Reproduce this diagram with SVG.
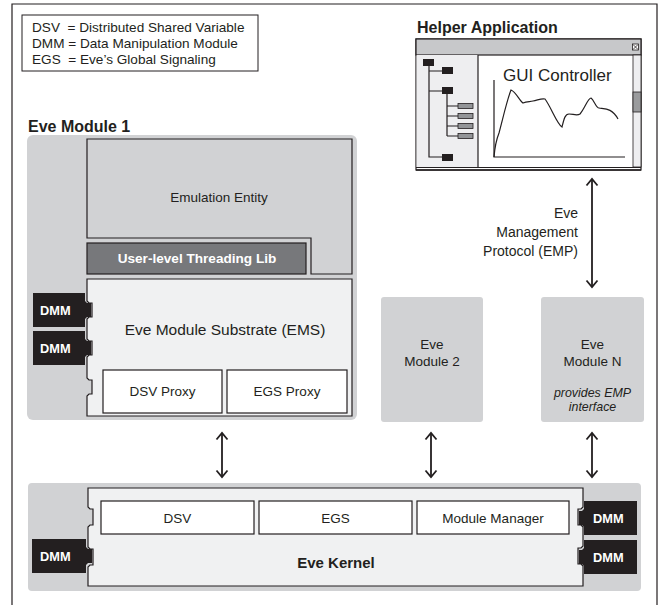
<svg xmlns="http://www.w3.org/2000/svg" width="661" height="605" viewBox="0 0 661 605">
<style>
text{font-family:"Liberation Sans",Arial,sans-serif;fill:#231f20}
.lg{font-size:13.6px;white-space:pre}
.b{font-weight:bold}
.ln{stroke:#231f20;stroke-width:1.2;fill:none}
.bg{fill:#d1d2d4}
.lt{fill:#f0f1f2;stroke:#231f20;stroke-width:1.2}
.wb{fill:#ffffff;stroke:#231f20;stroke-width:1.2}
.dmm{fill:#231f20}
.dt{font-size:12.8px;font-weight:bold;fill:#ffffff}
.arrow{stroke:#231f20;stroke-width:1.8;fill:none;marker-start:url(#ah);marker-end:url(#ah)}
.tb{fill:#231f20}
.tg{fill:#939598;stroke:#231f20;stroke-width:0.8}
</style>
<defs>
<marker id="ah" markerUnits="userSpaceOnUse" markerWidth="16" markerHeight="16" viewBox="-8 -8 16 16" refX="0" refY="0" orient="auto-start-reverse">
<path d="M-6.5,-5.5 L0,0 L-6.5,5.5" fill="none" stroke="#231f20" stroke-width="1.8"/>
</marker>
</defs>

<g id="frame">
<path class="ln" d="M12,605 V4 H657 V605" stroke-width="1.5"/>
</g>

<g id="legend">
<rect x="22" y="15" width="236" height="56" fill="#ffffff" stroke="#231f20" stroke-width="1"/>
<text class="lg" x="32" y="32">DSV  = Distributed Shared Variable</text>
<text class="lg" x="32" y="48">DMM = Data Manipulation Module</text>
<text class="lg" x="32" y="64">EGS  = Eve’s Global Signaling</text>
</g>

<g id="helper-application">
<text class="b" x="417" y="33" font-size="16">Helper Application</text>
<rect x="416" y="39" width="225" height="131" fill="#ffffff" stroke="#231f20" stroke-width="1.2"/>
<rect x="416" y="39" width="225" height="16" fill="#c7c8ca" stroke="#231f20" stroke-width="1.2"/>
<rect x="632.5" y="44" width="6" height="6" fill="#ffffff" stroke="#231f20" stroke-width="0.8"/>
<path d="M633,44.5 L638,49.5 M638,44.5 L633,49.5" stroke="#231f20" stroke-width="0.8"/>
<rect x="416.6" y="55" width="61.4" height="112" fill="#eeeef0"/>
<line class="ln" x1="478" y1="55" x2="478" y2="167"/>
<rect x="633" y="55" width="8" height="112" fill="#eeeef0" stroke="#231f20" stroke-width="0.8"/>
<rect x="633" y="92" width="8" height="20" fill="#9a9b9d" stroke="#231f20" stroke-width="0.8"/>
<line x1="416" y1="167.5" x2="641" y2="167.5" stroke="#231f20" stroke-width="1"/>
<line x1="416" y1="170" x2="641" y2="170" stroke="#231f20" stroke-width="1.6"/>
<path class="ln" d="M429,66 V157 H442 M429,71 H442 M429,91 H442 M447,94 V136 M447,106 H458 M447,116 H458 M447,126 H458 M447,136 H458" stroke-width="1"/>
<rect class="tb" x="423" y="59" width="11" height="7"/>
<rect class="tb" x="442" y="67" width="11" height="7"/>
<rect class="tb" x="442" y="87" width="11" height="7"/>
<rect class="tb" x="442" y="154" width="11" height="7"/>
<rect class="tg" x="458" y="103.5" width="15" height="5"/>
<rect class="tg" x="458" y="113.5" width="15" height="5"/>
<rect class="tg" x="458" y="123.5" width="15" height="5"/>
<rect class="tg" x="458" y="133.5" width="15" height="5"/>
<text x="503" y="81" font-size="17">GUI Controller</text>
<path class="ln" d="M494,80 V157 H625" stroke-width="1"/>
<path class="ln" stroke-width="1" d="M494,157 C495,145 497,138 499,133 C503,118 507,100 511,90 C516,92 519,100 523,103 C527,101 530,102 533,101 C538,100 542,98 545,99 C551,107 557,124 562,127 C564,119 565,114 569,114 C573,114 577,116 580,114 C585,108 588,98 591,98 C594,100 596,108 599,108 C605,109 612,108 618,119"/>
</g>

<g id="eve-module-1">
<text class="b" x="28" y="132" font-size="16">Eve Module 1</text>
<rect class="bg" x="27" y="135" width="330" height="285" rx="6"/>
<path d="M87,139 H352 V274 H311 V238 H87 Z" fill="#d1d2d4" stroke="#231f20" stroke-width="1.2"/>
<text x="219" y="202" font-size="13.5" text-anchor="middle">Emulation Entity</text>
<rect x="87" y="243" width="219" height="31" fill="#77787b" stroke="#231f20" stroke-width="1.2"/>
<text x="197" y="263" font-size="13.6" class="b" text-anchor="middle" style="fill:#ffffff">User-level Threading Lib</text>
<path class="lt" d="M87,279 H352 V416 H87 V396 L89,394 H92 V380 H89 L87,378 V357 L89,355 H92 V341 H89 L87,339 V319 L89,317 H92 V303 H89 L87,301 Z"/>
<text x="225" y="335" font-size="15.5" text-anchor="middle">Eve Module Substrate (EMS)</text>
<rect class="wb" x="103" y="370" width="119" height="43"/>
<text x="162.5" y="396" font-size="13.5" text-anchor="middle">DSV Proxy</text>
<rect class="wb" x="227" y="370" width="120" height="43"/>
<text x="287" y="396" font-size="13.5" text-anchor="middle">EGS Proxy</text>
</g>

<g id="dmm-m1-a">
<path class="dmm" d="M33,293 H85 V301 L87,303 H91 V317 H87 L85,319 V327 H33 Z"/>
<text class="dt" x="40" y="315">DMM</text>
</g>
<g id="dmm-m1-b">
<path class="dmm" d="M33,331 H85 V339 L87,341 H91 V355 H87 L85,357 V365 H33 Z"/>
<text class="dt" x="40" y="353">DMM</text>
</g>

<g id="eve-module-2">
<rect class="bg" x="381" y="297" width="102" height="125" rx="3"/>
<text x="432" y="349" font-size="13.5" text-anchor="middle">Eve</text>
<text x="432" y="366" font-size="13.5" text-anchor="middle">Module 2</text>
</g>

<g id="eve-module-n">
<rect class="bg" x="541" y="297" width="103" height="125" rx="3"/>
<text x="592.5" y="349" font-size="13.5" text-anchor="middle">Eve</text>
<text x="592.5" y="366" font-size="13.5" text-anchor="middle">Module N</text>
<text x="592.5" y="397" font-size="12.4" font-style="italic" text-anchor="middle">provides EMP</text>
<text x="592.5" y="411" font-size="12.4" font-style="italic" text-anchor="middle">interface</text>
</g>

<g id="eve-kernel">
<rect class="bg" x="28" y="483" width="613" height="108" rx="4"/>
<path class="lt" d="M88,488 H583 V507 L581,509 H578 V525 H581 L583,527 V546 L581,548 H578 V564 H581 L583,566 V586 H88 V567 L90,565 H93 V549 H90 L88,547 V527 L90,525 H93 V509 H90 L88,507 Z"/>
<rect class="wb" x="101" y="501" width="153" height="33"/>
<text x="177.5" y="523" font-size="13.5" text-anchor="middle">DSV</text>
<rect class="wb" x="259" y="501" width="153" height="33"/>
<text x="335.5" y="523" font-size="13.5" text-anchor="middle">EGS</text>
<rect class="wb" x="417" y="501" width="152" height="33"/>
<text x="493" y="523" font-size="13.5" text-anchor="middle">Module Manager</text>
<text x="336" y="568" font-size="15" class="b" text-anchor="middle">Eve Kernel</text>
</g>

<g id="dmm-k-left">
<path class="dmm" d="M32,539 H86 V547 L88,549 H92 V563 H88 L86,565 V573 H32 Z"/>
<text class="dt" x="40" y="561">DMM</text>
</g>
<g id="dmm-k-right-a">
<path class="dmm" d="M637,501 H584 V509 L582,511 H579 V525 H582 L584,527 V535 H637 Z"/>
<text class="dt" x="593" y="523">DMM</text>
</g>
<g id="dmm-k-right-b">
<path class="dmm" d="M637,540 H584 V548 L582,550 H579 V564 H582 L584,566 V574 H637 Z"/>
<text class="dt" x="593" y="562">DMM</text>
</g>

<g id="connectors">
<line class="arrow" x1="592" y1="179" x2="592" y2="287"/>
<line class="arrow" x1="222" y1="433" x2="222" y2="477"/>
<line class="arrow" x1="431" y1="433" x2="431" y2="477"/>
<line class="arrow" x1="592" y1="433" x2="592" y2="477"/>
</g>

<g id="emp-label">
<text x="578" y="218" font-size="14" text-anchor="end">Eve</text>
<text x="578" y="237" font-size="14" text-anchor="end">Management</text>
<text x="578" y="256" font-size="14" text-anchor="end">Protocol (EMP)</text>
</g>
</svg>
